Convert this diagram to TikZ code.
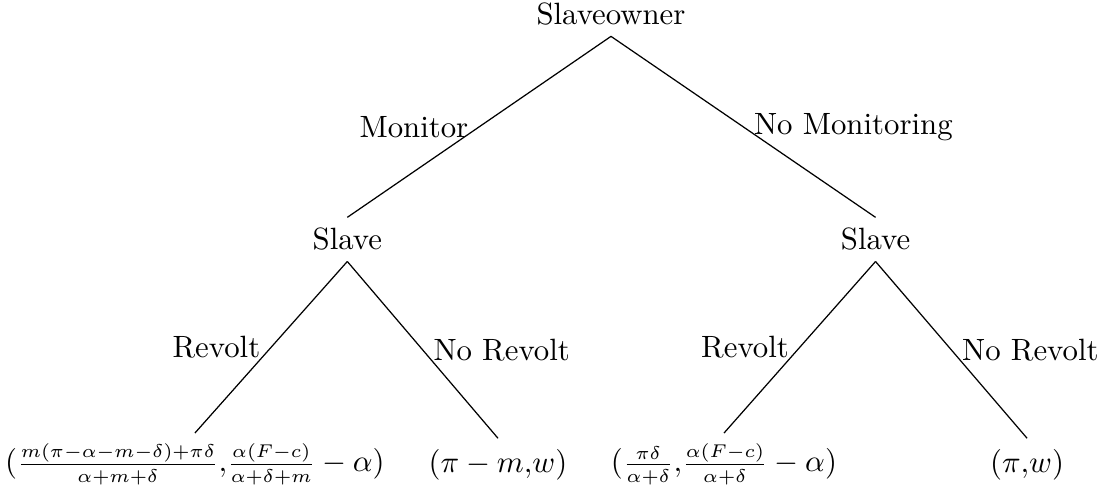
\documentclass[tikz,border=0pt]{standalone}
\usepackage{amsmath}
\usepackage{tikz}
\usetikzlibrary{positioning}
\DeclareMathSizes{10}{10}{6.5}{5}

\begin{document}
\begin{tikzpicture}[node distance=2.57cm, on grid]
   \useasboundingbox (-6.975,0.163) rectangle (5.685,-5.499);
   % 第一层（奴隶主）
   \node (r_0) {Slaveowner};
   \node (s_1) [below left=2.57cm and 3.01cm of r_0] {Slave};
   \node (s_2) [below right=2.57cm and 3.02cm of r_0] {Slave};

   % 结果（收益）
   \node (o_1) [below left=2.57cm and 1.74cm of s_1]
      {$(\frac{m(\pi-\alpha-m-\delta)+\pi\delta}{\alpha+m+\delta}{,}\frac{\alpha(F-c)}{\alpha+\delta+m} - \alpha)$};
   \node (o_2) [below right=2.57cm and 1.72cm of s_1] {$(\pi - m{,}w)$};
   \node (o_3) [below left=2.57cm and 1.73cm of s_2]
      {$(\frac{\pi\delta}{\alpha+\delta}{,}\frac{\alpha(F-c)}{\alpha+\delta} - \alpha)$};
   \node (o_4) [below right=2.57cm and 1.73cm of s_2] {$(\pi{,}w)$};

   \path[-]
    % 奴隶主的选择
    (r_0.south) edge node[left] {Monitor} (s_1.north)
    (r_0.south) edge node[right] {No Monitoring} (s_2.north)

    % 奴隶的选择
    (s_1.south) edge node[left] {Revolt} (o_1.north)
    (s_1.south) edge node[right] {No Revolt} (o_2.north)
    (s_2.south) edge node[left] {Revolt} (o_3.north)
    (s_2.south) edge node[right] {No Revolt} (o_4.north)
    ;
\end{tikzpicture}
\end{document}
